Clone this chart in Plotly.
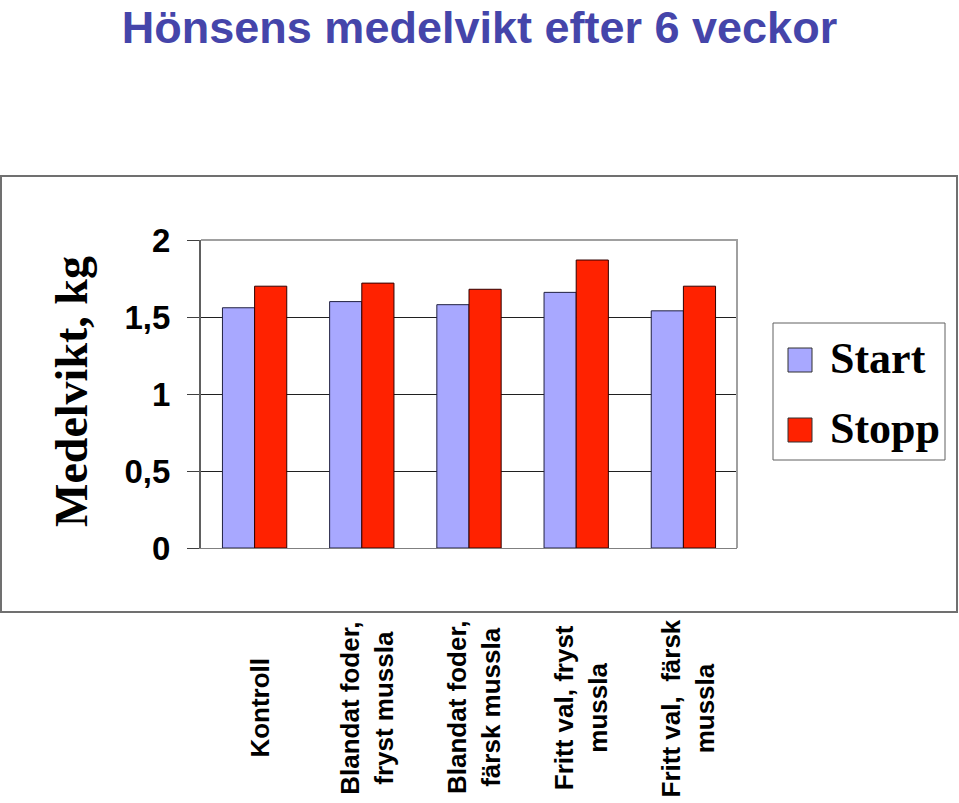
import plotly.graph_objects as go

# data
categories = [
    "Kontroll",
    "Blandat foder,<br>fryst mussla",
    "Blandat foder,<br>färsk mussla",
    "Fritt val, fryst<br>mussla",
    "Fritt val,  färsk<br>mussla",
]
start_kg = [1.56, 1.60, 1.58, 1.66, 1.54]
stopp_kg = [1.70, 1.72, 1.68, 1.87, 1.70]
y_ticks = [0, 0.5, 1, 1.5, 2]
y_ticktext = ["0", "0,5", "1", "1,5", "2"]

W, H = 959, 803
L, R, T, B = 201, 737, 240, 548   # plot area in pixels

def px(x):
    return (x - L) / (R - L)

def py(y):
    return (B - y) / (B - T)

START_COL = "#A8A8FF"
STOPP_COL = "#FF2200"

fig = go.Figure()
fig.add_trace(go.Bar(
    name="Start", x=categories, y=start_kg,
    marker=dict(color=START_COL, line=dict(color="#202040", width=1)),
))
fig.add_trace(go.Bar(
    name="Stopp", x=categories, y=stopp_kg,
    marker=dict(color=STOPP_COL, line=dict(color="#300000", width=1)),
))

# category labels (rotated, centered below the chart box)
for c in categories:
    fig.add_annotation(
        x=c, xref="x", y=py(708), yref="paper",
        text=c, textangle=-90, showarrow=False,
        xanchor="center", yanchor="middle", align="center",
        xshift=5,
        font=dict(family="Arial, Liberation Sans", size=26, color="black", weight="bold"),
    )

# y-axis title
fig.add_annotation(
    x=px(71), y=py(392), xref="paper", yref="paper",
    text="Medelvikt, kg", textangle=-90, showarrow=False,
    xanchor="center", yanchor="middle",
    font=dict(family="Liberation Serif, Times New Roman", size=46, color="black", weight="bold"),
)

# legend (drawn by hand for large swatches)
fig.add_shape(type="rect", xref="paper", yref="paper",
              x0=px(773), x1=px(945), y0=py(460), y1=py(323),
              line=dict(color="#606060", width=1), fillcolor="white")
for name, col, ytop, ytext in [("Start", START_COL, 348, 358), ("Stopp", STOPP_COL, 418, 428)]:
    fig.add_shape(type="rect", xref="paper", yref="paper",
                  x0=px(788), x1=px(812), y0=py(ytop + 24), y1=py(ytop),
                  line=dict(color="#303030", width=1), fillcolor=col)
    fig.add_annotation(
        x=px(828), y=py(ytext), xref="paper", yref="paper",
        text=name, showarrow=False, xanchor="left", yanchor="middle",
        font=dict(family="Liberation Serif, Times New Roman", size=44, color="black", weight="bold"),
    )

# outer chart box
fig.add_shape(type="rect", xref="paper", yref="paper",
              x0=px(1), x1=px(957), y0=py(612), y1=py(176),
              line=dict(color="#707070", width=2), layer="below")
# plot area top/right border
fig.add_shape(type="path", xref="paper", yref="paper",
              path="M 0,1 L 1,1 L 1,0",
              line=dict(color="#A0A0A0", width=2))

fig.update_layout(
    width=W, height=H,
    margin=dict(l=L, r=W - R, t=T, b=H - B),
    paper_bgcolor="white", plot_bgcolor="white",
    barmode="group", bargap=0.40, bargroupgap=0,
    showlegend=False,
    title=dict(
        text="Hönsens medelvikt efter 6 veckor",
        x=0.5, xanchor="center", y=1 - 27 / H, yanchor="middle",
        font=dict(family="Arial, Liberation Sans", size=45, color="#4545AA", weight="bold"),
    ),
    xaxis=dict(
        showticklabels=False, ticks="", showgrid=False,
        showline=True, linecolor="#808080", linewidth=1,
    ),
    yaxis=dict(
        range=[0, 2], tickvals=y_ticks, ticktext=y_ticktext,
        ticks="outside", ticklen=12, tickcolor="#404040", tickwidth=1,
        ticklabelstandoff=10,
        tickfont=dict(family="Arial, Liberation Sans", size=33, color="black", weight="bold"),
        showgrid=True, gridcolor="#202020", gridwidth=1,
        zeroline=False, showline=True, linecolor="#606060", linewidth=2,
    ),
)

fig.write_html("out.html", config={"displayModeBar": False},
               post_script="document.body.style.margin='0px';")
